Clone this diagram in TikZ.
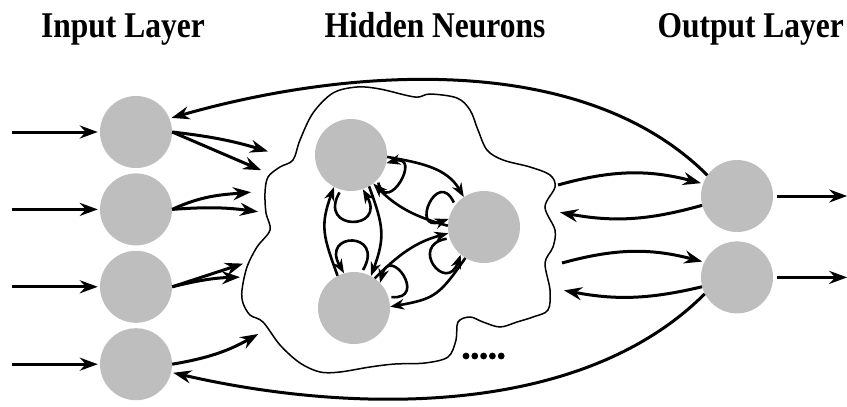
\documentclass[tikz,border=0pt]{standalone}
\usepackage{fontspec}
\setmainfont{Liberation Serif}
\usepackage{tikz}
\usetikzlibrary{arrows.meta, positioning, calc}

\begin{document}
\begin{tikzpicture}[x=1pt, y=1pt,
    neuron/.style={circle, fill={rgb,255:red,190;green,190;blue,190}, minimum size=72pt, inner sep=0pt},
    title/.style={font=\fontsize{31.5}{38}\selectfont\bfseries, anchor=base},
    link/.style={line width=3pt, shorten >=2pt, -{Stealth[length=18pt, width=13pt, inset=6pt]}},
    recur/.style={line width=2.6pt, -{Stealth[length=14pt, width=10.5pt, inset=4.5pt]}},
    selfloop/.style={recur, shorten <=3pt},
    blob/.style={line width=1.5pt}]

            \useasboundingbox (0,0) rectangle (847,-407);

            % 标题
            \node[title] (tin) at (123,-37) {\scalebox{1}[1.15]{Input Layer}};
            \node[title] (thid) at (435,-37) {\scalebox{1}[1.15]{Hidden Neurons}};
            \node[title, anchor=base west] (tout) at (654,-37) {\scalebox{1}[1.15]{Output Layer}};

            % 隐藏层轮廓
            \draw[blob] plot[smooth cycle, tension=0.55] coordinates {
                (280,-167) (293,-160) (300,-140) (313,-113) (333,-93) (357,-87)
                (380,-89) (415,-97) (430,-94) (457,-98) (470,-110) (478,-130)
                (487,-150) (503,-160) (530,-167) (550,-175) (555,-187) (545,-207)
                (555,-230) (553,-247) (545,-263) (550,-290) (548,-310) (533,-317)
                (517,-322) (500,-327) (483,-322) (470,-317) (458,-322) (456,-340)
                (448,-357) (425,-363) (395,-364) (370,-367) (340,-372) (320,-372)
                (300,-363) (280,-345) (263,-322) (250,-315) (243,-303) (242,-290)
                (247,-267) (257,-247) (270,-230) (266,-213) (265,-193) (268,-177)};

            % 神经元
            \node[neuron] (I1) at (136,-132) {};
            \node[neuron, below=5pt of I1] (I2) {};
            \node[neuron, below=5pt of I2] (I3) {};
            \node[neuron, below=5pt of I3] (I4) {};

            \node[neuron] (H1) at (351,-155) {};
            \node[neuron] (H2) at (484,-227) {};
            \node[neuron] (H3) at (354,-308) {};

            \node[neuron] (O1) at (737,-196) {};
            \node[neuron, below=9pt of O1] (O2) {};

            % 省略号
            \foreach \i in {0,...,4}
                \fill (466+8.8*\i,-356) circle (3.4);

            % 轮廓上的端点
            \coordinate (a1) at (270,-152);
            \coordinate (a2) at (263,-171);
            \coordinate (a3) at (253,-192);
            \coordinate (a4) at (260,-212);
            \coordinate (a5) at (245,-263);
            \coordinate (a6) at (242,-277);
            \coordinate (a7) at (260,-333);
            \coordinate (b1) at (558,-185);
            \coordinate (b2) at (558,-212);
            \coordinate (b3) at (562,-263);
            \coordinate (b4) at (562,-290);

            % 输入与输出
            \foreach \k in {1,...,4} {
                \coordinate (in\k) at ($(I\k.west)+(-88,0)$);
                \draw[link] (in\k) -- (I\k);
            }
            \foreach \k in {1,2} {
                \coordinate (out\k) at ($(O\k.east)+(74,0)$);
                \draw[link, shorten <=4pt, shorten >=0pt] (O\k) -- (out\k);
            }

            % 输入层 -> 隐藏层
            \draw[link] (I1.east) to[bend left=5] (a1);
            \draw[link] (I1.east) -- (a2);
            \draw[link] (I2.east) to[out=25, in=185] (a3);
            \draw[link] (I2.east) to[bend left=6] (a4);
            \draw[link] (I3.east) -- (a5);
            \draw[link] (I3.east) to[bend left=6] (a6);
            \draw[link] (I4.east) to[bend right=10] (a7);

            % 隐藏层 <-> 输出层
            \draw[link] (b1) to[bend left=15] (O1.160);
            \draw[link] (O1.195) to[bend left=13] (b2);
            \draw[link] (b3) to[bend left=15] (O2.155);
            \draw[link] (O2.195) to[bend left=12] (b4);

            % 反馈
            \draw[link] (O1.145) to[out=135, in=16, looseness=0.85] (I1.22);
            \draw[link] (O2.207) to[out=225, in=-13, looseness=0.85] (I4.-13);

            % 隐藏层内部连接
            \draw[recur] (H1.-3) to[out=-10, in=120] (H2.124);
            \draw[recur] (H2.178) to[out=165, in=-45] (H1.-52);
            \draw[recur] (H3.55) to[out=45, in=195] (H2.190);
            \draw[recur] (H2.-121) to[out=-125, in=10, looseness=1.3] (H3.2);
            \draw[recur] (H3.117) to[out=110, in=-110, looseness=1.2] (H1.-118);
            \draw[recur] (H1.-60) to[out=-70, in=70, looseness=1.2] (H3.62);

            % 自连接
            \draw[selfloop] (H1.-106) to[out=-120, in=-60, distance=48pt] (H1.-71);
            \draw[selfloop] (H1.-43) to[out=-75, in=15, distance=38pt] (H1.-13);
            \draw[selfloop] (H2.143) to[out=115, in=200, distance=42pt] (H2.167);
            \draw[selfloop] (H2.198) to[out=190, in=250, distance=42pt] (H2.230);
            \draw[selfloop] (H3.18) to[out=-5, in=75, distance=40pt] (H3.44);
            \draw[selfloop] (H3.78) to[out=60, in=120, distance=48pt] (H3.106);

        \end{tikzpicture}
\end{document}
